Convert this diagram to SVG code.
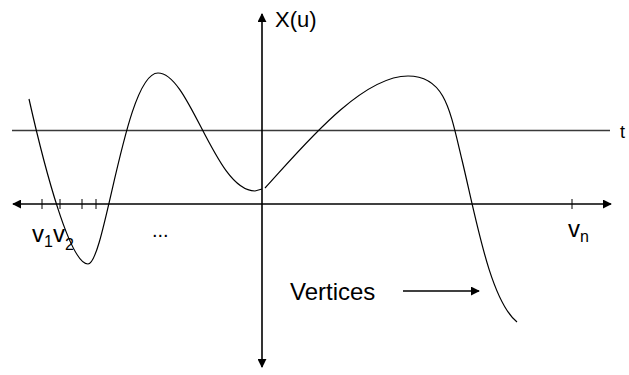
<svg xmlns="http://www.w3.org/2000/svg" width="629" height="375" viewBox="0 0 629 375">
<style>
.axis{stroke:#000;stroke-width:1.6;fill:none}
.tick{stroke:#000;stroke-width:1}
.curve{stroke:#000;stroke-width:1.2;fill:none}
.thr{stroke:#3a3a3a;stroke-width:1.4}
.lbl{font-family:"Liberation Sans",Arial,sans-serif;fill:#000}
</style>
<defs>
<marker id="ah" viewBox="0 0 10 10" refX="9" refY="5" markerWidth="9" markerHeight="9" markerUnits="userSpaceOnUse" orient="auto-start-reverse">
<path d="M0,0 L10,5 L0,10 Z" fill="#000"/>
</marker>
</defs>
<rect width="629" height="375" fill="#fff"/>
<g id="connectors">
<line id="threshold" class="thr" x1="12" y1="130.5" x2="610" y2="130.5"/>
<line id="x-axis" class="axis" x1="13" y1="204" x2="611" y2="204" marker-start="url(#ah)" marker-end="url(#ah)"/>
<line id="y-axis" class="axis" x1="262" y1="14" x2="262" y2="367" marker-start="url(#ah)" marker-end="url(#ah)"/>
<line class="axis" x1="403" y1="291" x2="479" y2="291" marker-end="url(#ah)"/>
</g>
<g id="ticks">
<line class="tick" x1="42" y1="199" x2="42" y2="209"/>
<line class="tick" x1="60" y1="199" x2="60" y2="209"/>
<line class="tick" x1="82" y1="199" x2="82" y2="209"/>
<line class="tick" x1="96" y1="199" x2="96" y2="209"/>
<line class="tick" x1="572" y1="199" x2="572" y2="209"/>
</g>
<g id="curves">
<path class="curve" d="M29,99 C45,170 70,264 88,264 C105,264 125,73 158,73 C190,73 215,191 255,191 L262,189"/>
<path class="curve" d="M265,188 C300,150 360,76 408,76 C445,76 450,110 462,160 C476,218 490,300 517,322"/>
</g>
<g id="labels">
<text class="lbl" x="620" y="138" font-size="18">t</text>
<text class="lbl" x="275" y="27" font-size="22">X(u)</text>
<text class="lbl" x="32" y="242" font-size="24">v<tspan font-size="16" dy="5">1</tspan><tspan dy="-5">v</tspan><tspan font-size="16" dy="8">2</tspan></text>
<text class="lbl" x="152" y="237" font-size="20">...</text>
<text class="lbl" x="568" y="237" font-size="24">v<tspan font-size="16" dy="5">n</tspan></text>
<text class="lbl" x="290" y="300" font-size="24">Vertices</text>
</g>
</svg>
